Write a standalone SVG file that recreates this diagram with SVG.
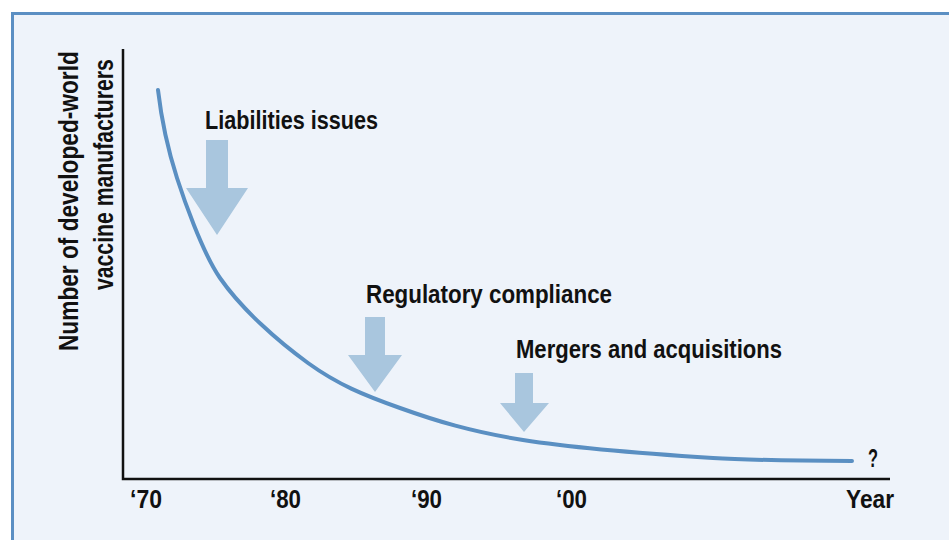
<svg xmlns="http://www.w3.org/2000/svg" width="949" height="540" viewBox="0 0 949 540">
  <style>
    .t { font-family: "Liberation Sans", Arial, sans-serif; font-weight: bold; font-size: 26px; fill: #111; }
    .yl { font-size: 28px; }
    .arrow { fill: #a9c6de; }
    .curve { fill: none; stroke: #5a8fc2; stroke-width: 4; stroke-linecap: round; }
    .axis { fill: none; stroke: #111; stroke-width: 2.5; }
  </style>
  <rect id="frame" x="12.5" y="13.5" width="960" height="560" fill="#eef3fa" stroke="#5b8fc3" stroke-width="3"/>

  <g id="y-axis-label">
    <text class="t yl" transform="translate(78,351) rotate(-90) scale(0.81,1)">Number of developed-world</text>
    <text class="t yl" transform="translate(113,290) rotate(-90) scale(0.757,1)">vaccine manufacturers</text>
  </g>

  <g id="axes">
    <polyline class="axis" points="123,49 123,479 890,479"/>
  </g>

  <g id="x-ticks">
    <text class="t" x="130" y="508" textLength="32" lengthAdjust="spacingAndGlyphs">‘70</text>
    <text class="t" x="270" y="508" textLength="31" lengthAdjust="spacingAndGlyphs">‘80</text>
    <text class="t" x="411" y="508" textLength="31" lengthAdjust="spacingAndGlyphs">‘90</text>
    <text class="t" x="556" y="508" textLength="31" lengthAdjust="spacingAndGlyphs">‘00</text>
    <text class="t" x="846" y="508" textLength="48" lengthAdjust="spacingAndGlyphs">Year</text>
  </g>

  <g id="curve">
    <path class="curve" d="M158,90 C161.5,120 168,150 177,178 C183,196.7 202,252 220,278 C241.6,309.2 278,341.3 308,363 C338,384.7 364.2,395.2 400,408 C435.8,420.8 470.8,431.7 523,440 C575.2,448.3 658.2,454.5 713,458 C740.4,459.75 805,460.7 852,461"/>
    <text class="t" x="868" y="467" textLength="10" lengthAdjust="spacingAndGlyphs">?</text>
  </g>

  <g id="liabilities">
    <text class="t" x="205" y="129" textLength="173" lengthAdjust="spacingAndGlyphs">Liabilities issues</text>
    <polygon class="arrow" points="206,140 228,140 228,188 248,188 217,235 186,188 206,188"/>
  </g>

  <g id="regulatory">
    <text class="t" x="366" y="303" textLength="246" lengthAdjust="spacingAndGlyphs">Regulatory compliance</text>
    <polygon class="arrow" points="365,317 385,317 385,355 402,355 375,392 348,355 365,355"/>
  </g>

  <g id="mergers">
    <text class="t" x="516" y="358" textLength="266" lengthAdjust="spacingAndGlyphs">Mergers and acquisitions</text>
    <polygon class="arrow" points="515,373 533,373 533,403 549,403 524,432 500,403 515,403"/>
  </g>
</svg>
